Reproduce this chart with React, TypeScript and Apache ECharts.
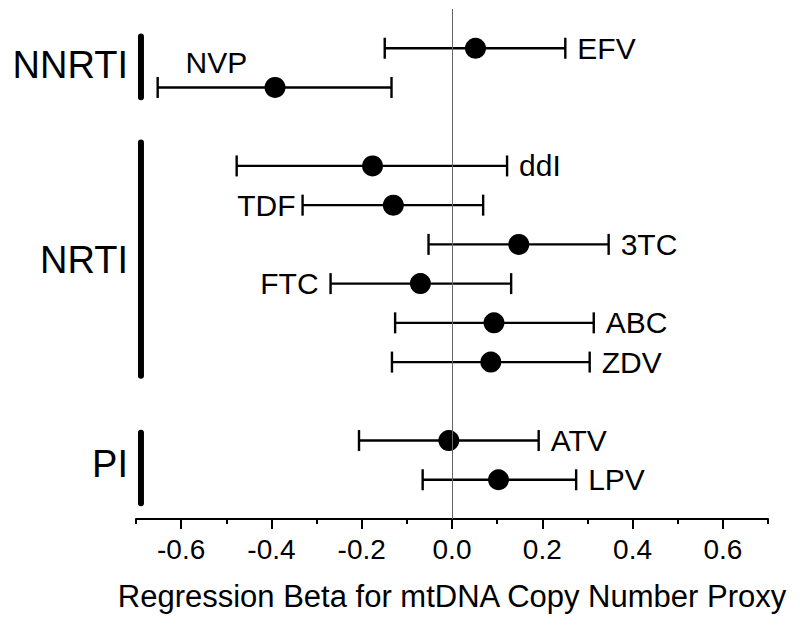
import React, { useEffect, useRef } from "react";
import * as echarts from "echarts";

// ---- data ----
const drugs = ["EFV", "NVP", "ddI", "TDF", "3TC", "FTC", "ABC", "ZDV", "ATV", "LPV"];
const rowIndex = [0, 1, 3, 4, 5, 6, 7, 8, 10, 11];
const beta = [0.052, -0.392, -0.176, -0.13, 0.148, -0.07, 0.093, 0.086, -0.007, 0.103];
const lower = [-0.149, -0.652, -0.477, -0.331, -0.052, -0.269, -0.126, -0.133, -0.206, -0.065];
const upper = [0.251, -0.134, 0.122, 0.069, 0.347, 0.131, 0.314, 0.305, 0.192, 0.275];
const labelSide = ["right", "top", "right", "left", "right", "left", "right", "right", "right", "right"];

const groups = ["NNRTI", "NRTI", "PI"];
const groupStart = [-0.3, 2.4, 9.8];
const groupEnd = [1.25, 8.35, 11.6];
const groupLabelRow = [0.43, 5.41, 10.6];
const GROUP_X = -0.689;

const majorTicks = [-0.6, -0.4, -0.2, 0.0, 0.2, 0.4, 0.6];
const minorTicks = [-0.7, -0.5, -0.3, -0.1, 0.1, 0.3, 0.5, 0.7];

const FONT = "'Liberation Sans', Arial, Helvetica, sans-serif";

export default function App() {
  const ref = useRef<HTMLDivElement>(null);
  useEffect(() => {
    if (!ref.current) return;
    const chart = echarts.init(ref.current, undefined, { renderer: "svg" });

    const labelData = drugs.map((d, i) => {
      const side = labelSide[i];
      let x = upper[i];
      let dist = 12;
      if (side === "left") {
        x = lower[i];
        dist = d === "TDF" ? 7 : 12;
      } else if (side === "top") {
        x = (lower[i] + beta[i]) / 2;
        dist = 10;
      }
      return {
        value: [x, rowIndex[i]],
        label: {
          show: true,
          formatter: d,
          position: side,
          distance: dist,
          fontSize: 30,
          fontFamily: FONT,
          color: "#000",
          opacity: 1,
        },
      };
    });

    const option: any = {
      animation: false,
      backgroundColor: "#fff",
      grid: { left: 136, right: 32, top: 9, bottom: 106 },
      xAxis: [
        {
          type: "value",
          min: -0.7,
          max: 0.7,
          interval: 0.1,
          position: "bottom",
          name: "Regression Beta for mtDNA Copy Number Proxy",
          nameLocation: "middle",
          nameGap: 62,
          nameTextStyle: { fontSize: 31, fontFamily: FONT, color: "#000" },
          axisLine: { show: true, onZero: false, lineStyle: { color: "#000", width: 2 } },
          axisTick: {
            show: true,
            customValues: majorTicks,
            length: 10,
            lineStyle: { color: "#000", width: 2 },
          },
          axisLabel: {
            show: true,
            customValues: majorTicks,
            margin: 16,
            fontSize: 28,
            fontFamily: FONT,
            color: "#000",
            formatter: (v: number) => v.toFixed(1),
          },
          splitLine: { show: false },
        },
        {
          type: "value",
          min: -0.7,
          max: 0.7,
          interval: 0.1,
          position: "bottom",
          axisLine: { show: false, onZero: false },
          axisTick: {
            show: true,
            customValues: minorTicks,
            length: 5,
            lineStyle: { color: "#000", width: 2 },
          },
          axisLabel: { show: false },
          splitLine: { show: false },
        },
      ],
      yAxis: {
        type: "value",
        min: -1,
        max: 12,
        inverse: true,
        show: false,
        splitLine: { show: false },
      },
      series: [
        {
          type: "custom",
          silent: true,
          xAxisIndex: 0,
          data: drugs.map((d, i) => [rowIndex[i], lower[i], upper[i]]),
          encode: { x: [1, 2], y: 0 },
          renderItem: (params: any, api: any) => {
            const row = api.value(0);
            const p1 = api.coord([api.value(1), row]);
            const p2 = api.coord([api.value(2), row]);
            const h = 10.5;
            const st = { stroke: "#000", lineWidth: 2.4 };
            return {
              type: "group",
              children: [
                { type: "line", shape: { x1: p1[0], y1: p1[1], x2: p2[0], y2: p2[1] }, style: st },
                { type: "line", shape: { x1: p1[0], y1: p1[1] - h, x2: p1[0], y2: p1[1] + h }, style: st },
                { type: "line", shape: { x1: p2[0], y1: p2[1] - h, x2: p2[0], y2: p2[1] + h }, style: st },
              ],
            };
          },
          markLine: {
            silent: true,
            symbol: "none",
            label: { show: false },
            lineStyle: { color: "#666", width: 1, type: "solid", opacity: 1 },
            data: [{ xAxis: 0 }],
          },
          z: 2,
        },
        {
          type: "scatter",
          silent: true,
          xAxisIndex: 0,
          symbol: "circle",
          symbolSize: 21,
          itemStyle: { color: "#000", opacity: 1 },
          data: drugs.map((d, i) => [beta[i], rowIndex[i]]),
          z: 3,
        },
        {
          type: "scatter",
          silent: true,
          xAxisIndex: 0,
          symbolSize: 0,
          itemStyle: { color: "#000", opacity: 1 },
          data: labelData,
          z: 4,
        },
        {
          type: "custom",
          silent: true,
          xAxisIndex: 0,
          clip: false,
          data: groups.map((g, i) => [GROUP_X, groupStart[i], groupEnd[i], groupLabelRow[i]]),
          encode: { x: 0, y: [1, 2, 3] },
          renderItem: (params: any, api: any) => {
            const gx = api.value(0);
            const a = api.coord([gx, api.value(1)]);
            const b = api.coord([gx, api.value(2)]);
            const c = api.coord([gx, api.value(3)]);
            return {
              type: "group",
              children: [
                {
                  type: "line",
                  shape: { x1: a[0], y1: a[1], x2: b[0], y2: b[1] },
                  style: { stroke: "#000", lineWidth: 6, lineCap: "round" },
                },
                {
                  type: "text",
                  x: a[0] - 13,
                  y: c[1],
                  style: {
                    text: groups[params.dataIndex],
                    fontSize: 38,
                    fontFamily: FONT,
                    fill: "#000",
                    align: "right",
                    verticalAlign: "middle",
                  },
                },
              ],
            };
          },
          z: 5,
        },
      ],
    };

    chart.setOption(option);
    return () => chart.dispose();
  }, []);

  return (
    <div
      ref={ref}
      style={{ position: "fixed", left: 0, top: 0, width: 800, height: 625, background: "#fff" }}
    />
  );
}
